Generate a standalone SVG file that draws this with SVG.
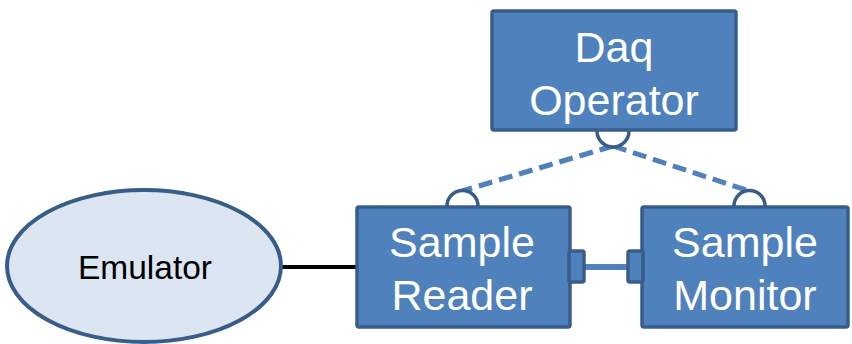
<svg xmlns="http://www.w3.org/2000/svg" width="852" height="344" viewBox="0 0 852 344">
<style>
.box{fill:#4f81bd;stroke:#385d8a;stroke-width:3.5}
.port{fill:#4f81bd;stroke:#385d8a;stroke-width:3.5}
.sock{fill:#ffffff;stroke:#385d8a;stroke-width:3.5}
.lbl{font-family:"Liberation Sans",Arial,sans-serif;font-size:43px;fill:#ffffff;text-anchor:middle}
.dash{stroke:#4f81bd;stroke-width:5;stroke-dasharray:14,7;fill:none}
</style>
<rect width="852" height="344" fill="#ffffff"/>
<g id="connectors">
<line x1="282" y1="267" x2="357" y2="267" stroke="#000000" stroke-width="4"/>
<line x1="584" y1="267" x2="628" y2="267" stroke="#4f81bd" stroke-width="6"/>
<line class="dash" x1="613" y1="146" x2="462" y2="191"/>
<line class="dash" x1="613" y1="146" x2="749" y2="191"/>
</g>
<g id="emulator">
<ellipse cx="144" cy="266" rx="137" ry="76" fill="#dce6f2" stroke="#385d8a" stroke-width="4"/>
<text x="145" y="279" font-family="Liberation Sans,Arial,sans-serif" font-size="33.5" fill="#000000" text-anchor="middle">Emulator</text>
</g>
<g id="daq-operator">
<path class="sock" d="M597,131 A16,16 0 0 0 629,131"/>
<rect class="box" x="492" y="11" width="244" height="119" rx="2"/>
<text class="lbl" x="614" y="62">Daq</text>
<text class="lbl" x="614" y="115">Operator</text>
</g>
<g id="sample-reader">
<path class="sock" d="M447,206 A15.5,15.5 0 0 1 478,206"/>
<rect class="box" x="357" y="207" width="213" height="120" rx="2"/>
<rect class="port" x="569" y="251" width="15" height="31" rx="2"/>
<text class="lbl" x="462" y="257">Sample</text>
<text class="lbl" x="462" y="310">Reader</text>
</g>
<g id="sample-monitor">
<path class="sock" d="M734,206 A15.5,15.5 0 0 1 765,206"/>
<rect class="box" x="642" y="207" width="206" height="120" rx="2"/>
<rect class="port" x="628" y="251" width="15" height="31" rx="2"/>
<text class="lbl" x="745" y="257">Sample</text>
<text class="lbl" x="745" y="310">Monitor</text>
</g>
</svg>
